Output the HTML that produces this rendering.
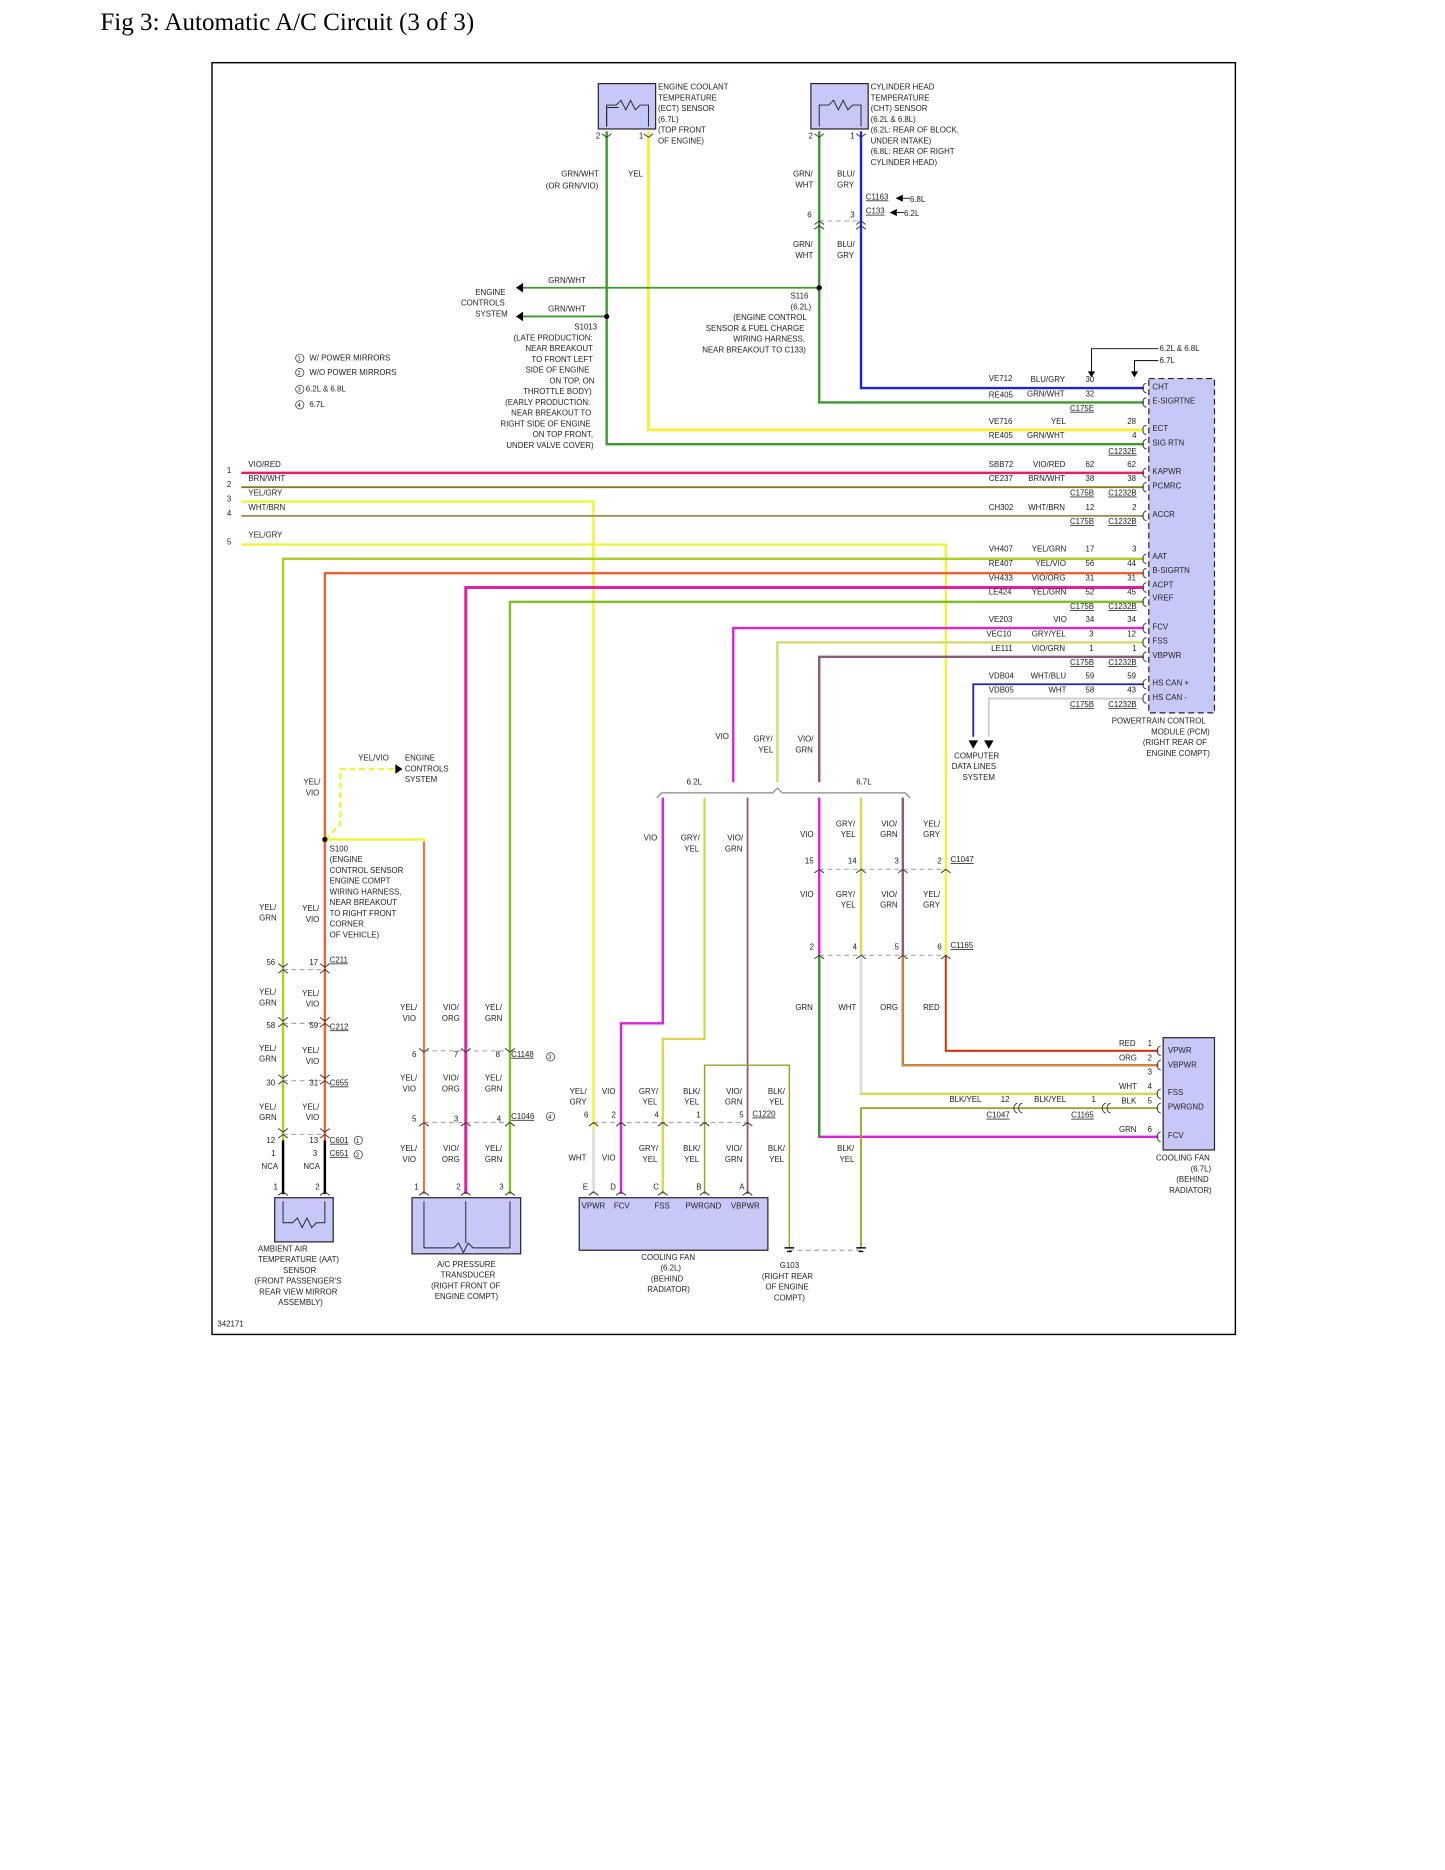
<!DOCTYPE html>
<html><head><meta charset="utf-8"><style>
html,body{margin:0;padding:0;background:#fff}
svg{display:block}
text{font-family:"Liberation Sans",sans-serif;font-size:6.6px;fill:#222}
.t{font-family:"Liberation Serif",serif;font-size:21px;fill:#000}
.u{text-decoration:underline}
</style></head><body>
<svg width="1445" height="1870" viewBox="0 0 1210 1566" xmlns="http://www.w3.org/2000/svg">
<text class="t" x="84" y="25">Fig 3: Automatic A/C Circuit (3 of 3)</text>
<rect x="177.5" y="52.5" width="857" height="1065" fill="none" stroke="#000" stroke-width="1.2"/>

<g fill="none" stroke-width="2">
<!-- ECT -->
<polyline points="508,110 508,372 958,372" stroke="#3a9a2a"/>
<polyline points="543,110 543,360 958,360" stroke="#f2f23a" stroke-width="2.5"/>
<!-- CHT -->
<polyline points="686,110 686,337 958,337" stroke="#3a9a2a"/>
<polyline points="721,110 721,325 958,325" stroke="#2020e0"/>
<line x1="686" y1="241" x2="438" y2="241" stroke="#3a9a2a" stroke-width="1.5"/>
<line x1="508" y1="265" x2="438" y2="265" stroke="#3a9a2a" stroke-width="1.5"/>
<!-- left rows -->
<line x1="202" y1="396" x2="958" y2="396" stroke="#e0206a"/>
<line x1="202" y1="408" x2="958" y2="408" stroke="#8a7a20" stroke-width="1.5"/>
<polyline points="202,420 497,420 497,1000" stroke="#f2f23a"/>
<line x1="202" y1="432" x2="958" y2="432" stroke="#a08a50" stroke-width="1.5"/>
<polyline points="202,456 792,456 792,880 970,880" stroke="#f2f23a"/>
<polyline points="958,468 237,468 237,1000" stroke="#a8d020"/>
<polyline points="958,480 272,480 272,1000" stroke="#f06030"/>
<polyline points="958,492 390,492 390,1000" stroke="#e020a0" stroke-width="2.5"/>
<polyline points="958,504 427,504 427,1000" stroke="#80c020"/>
<polyline points="958,526 614,526 614,655" stroke="#e020e0"/>
<polyline points="958,538 651,538 651,655" stroke="#d8d870"/>
<polyline points="958,550 686,550 686,655" stroke="#8a5a7a"/>
<polyline points="958,573 815,573 815,617" stroke="#2020c0" stroke-width="1.5"/>
<polyline points="958,585 828,585 828,617" stroke="#ccc" stroke-width="1.5"/>
<polyline points="970,292 914,292 914,312" stroke="#000" stroke-width="0.8"/>
<polyline points="970,302 950,302 950,312" stroke="#000" stroke-width="0.8"/>
<!-- S100 -->
<polyline points="272,703 285,690 285,644 330,644" stroke="#f2f23a" stroke-dasharray="5,3"/>
<polyline points="272,703 355,703 355,1000" stroke="#f2f23a"/>
<line x1="355" y1="705" x2="355" y2="1000" stroke="#f06060" stroke-width="1.5"/>
<!-- 6.2L fan -->
<polyline points="555,668 555,857 520,857 520,1000" stroke="#e020e0"/>
<polyline points="590,668 590,870 555,870 555,1000" stroke="#d8d850"/>
<line x1="626" y1="668" x2="626" y2="1000" stroke="#8a5a7a" stroke-width="1.5"/>
<polyline points="590,1000 590,892 661,892 661,1045" stroke="#a0a020" stroke-width="1.2"/>
<!-- 6.7L fan -->
<polyline points="686,668 686,952 970,952" stroke="#e020e0"/>
<line x1="686" y1="800" x2="686" y2="952" stroke="#3a9a2a"/>
<polyline points="721,668 721,916 970,916" stroke="#d8d850"/>
<line x1="721" y1="800" x2="721" y2="916" stroke="#ddd"/>
<polyline points="756,668 756,892 970,892" stroke="#8a5a7a"/>
<polyline points="756,800 756,892 970,892" stroke="#e08a20" stroke-width="1.5"/>
<polyline points="792,800 792,880 970,880" stroke="#e02020" stroke-width="1.5"/>
<polyline points="970,928 721,928 721,1045" stroke="#a0a020" stroke-width="1.5"/>
<line x1="237" y1="955" x2="237" y2="1000" stroke="#000"/>
<line x1="272" y1="955" x2="272" y2="1000" stroke="#000"/>
</g>
<line x1="497" y1="945" x2="497" y2="1000" stroke="#ddd" stroke-width="2"/>
<!-- dashed connector lines -->
<g stroke="#aaa" stroke-width="1" stroke-dasharray="4,3" fill="none">
<line x1="686" y1="185" x2="721" y2="185"/>
<line x1="237" y1="812" x2="272" y2="812"/>
<line x1="237" y1="857" x2="272" y2="857"/>
<line x1="237" y1="905" x2="272" y2="905"/>
<line x1="237" y1="950" x2="272" y2="950"/>
<line x1="355" y1="880" x2="427" y2="880"/>
<line x1="355" y1="940" x2="427" y2="940"/>
<line x1="497" y1="940" x2="626" y2="940"/>
<line x1="686" y1="728" x2="792" y2="728"/>
<line x1="686" y1="800" x2="792" y2="800"/>
<line x1="661" y1="1047" x2="721" y2="1047"/>
</g>
<!-- 6.2/6.7 bracket -->
<polyline points="550,668 554,664 647,664 651,660 655,664 758,664 762,668" fill="none" stroke="#888" stroke-width="1"/>
<!-- arrows -->
<g fill="#000">
<polygon points="432,241 438,237 438,245"/><polygon points="432,265 438,261 438,269"/>
<polygon points="337,644 331,640 331,648"/>
<polygon points="811,620 819,620 815,627"/><polygon points="824,620 832,620 828,627"/>
<polygon points="911,311 917,311 914,316"/><polygon points="947,311 953,311 950,316"/>
<polygon points="750,166 756,163 756,169"/><polygon points="745,178 751,175 751,181"/>
<circle cx="508" cy="265" r="2.2"/><circle cx="686" cy="241" r="2.2"/><circle cx="272" cy="703" r="2.2"/>
</g>
<line x1="756" y1="166" x2="762" y2="166" stroke="#000" stroke-width=".7"/>
<line x1="751" y1="178" x2="757" y2="178" stroke="#000" stroke-width=".7"/>
<!-- boxes -->
<g fill="#c8c8f8" stroke="#222" stroke-width="1">
<rect x="501" y="70" width="48" height="38"/><rect x="679" y="70" width="48" height="38"/>
<rect x="230" y="1003" width="49" height="37"/><rect x="345" y="1003" width="91" height="47"/>
<rect x="485" y="1003" width="158" height="44"/><rect x="974" y="869" width="43" height="94"/>
<rect x="962" y="317" width="55" height="280" stroke-dasharray="5,3"/>
</g>
<g fill="none" stroke="#222" stroke-width=".8">
<polyline points="508,106 508,90 518,90 M"/><polyline points="508,106 508,88 516,88 520,84 524,92 528,84 532,92 536,88 543,88 543,106"/>
<polyline points="686,106 686,88 694,88 698,84 702,92 706,84 710,92 714,88 721,88 721,106"/>
<polyline points="237,1006 237,1024 245,1024 249,1020 253,1028 257,1020 261,1028 265,1024 272,1024 272,1006"/>
<polyline points="355,1006 355,1045 380,1045 384,1041 388,1049 392,1041 396,1045 427,1045 427,1006"/>
<line x1="390" y1="1006" x2="390" y2="1041"/>
</g>
<!-- connector chevrons -->
<g fill="none" stroke="#333" stroke-width=".8">
<path d="M504,112 l4,3 4,-3 M539,112 l4,3 4,-3 M682,112 l4,3 4,-3 M717,112 l4,3 4,-3"/>
<path d="M682,188 l4,-3 4,3 M717,188 l4,-3 4,3 M682,192 l4,-3 4,3 M717,192 l4,-3 4,3"/>
<path d="M233,815 l4,-3 4,3 M268,815 l4,-3 4,3 M233,860 l4,-3 4,3 M268,860 l4,-3 4,3 M233,908 l4,-3 4,3 M268,908 l4,-3 4,3 M233,953 l4,-3 4,3 M268,953 l4,-3 4,3"/>
<path d="M233,852 l4,3 4,-3 M268,852 l4,3 4,-3 M233,900 l4,3 4,-3 M268,900 l4,3 4,-3 M233,945 l4,3 4,-3 M268,945 l4,3 4,-3 M233,807 l4,3 4,-3 M268,807 l4,3 4,-3"/>
<path d="M351,878 l4,3 4,-3 M386,878 l4,3 4,-3 M423,878 l4,3 4,-3 M351,943 l4,-3 4,3 M386,943 l4,-3 4,3 M423,943 l4,-3 4,3"/>
<path d="M493,943 l4,-3 4,3 M516,943 l4,-3 4,3 M551,943 l4,-3 4,3 M586,943 l4,-3 4,3 M622,943 l4,-3 4,3"/>
<path d="M493,1001 l4,-3 4,3 M516,1001 l4,-3 4,3 M551,1001 l4,-3 4,3 M586,1001 l4,-3 4,3 M622,1001 l4,-3 4,3"/>
<path d="M233,1001 l4,-3 4,3 M268,1001 l4,-3 4,3 M351,1001 l4,-3 4,3 M386,1001 l4,-3 4,3 M423,1001 l4,-3 4,3"/>
<path d="M682,731 l4,-3 4,3 M717,731 l4,-3 4,3 M752,731 l4,-3 4,3 M788,731 l4,-3 4,3 M682,803 l4,-3 4,3 M717,803 l4,-3 4,3 M752,803 l4,-3 4,3 M788,803 l4,-3 4,3"/>
<path d="M960,321 a3,4 0 0 0 0,8 M960,333 a3,4 0 0 0 0,8 M960,356 a3,4 0 0 0 0,8 M960,368 a3,4 0 0 0 0,8 M960,392 a3,4 0 0 0 0,8 M960,404 a3,4 0 0 0 0,8 M960,428 a3,4 0 0 0 0,8 M960,464 a3,4 0 0 0 0,8 M960,476 a3,4 0 0 0 0,8 M960,488 a3,4 0 0 0 0,8 M960,500 a3,4 0 0 0 0,8 M960,522 a3,4 0 0 0 0,8 M960,534 a3,4 0 0 0 0,8 M960,546 a3,4 0 0 0 0,8 M960,569 a3,4 0 0 0 0,8 M960,581 a3,4 0 0 0 0,8"/>
<path d="M972,876 a3,4 0 0 0 0,8 M972,888 a3,4 0 0 0 0,8 M972,912 a3,4 0 0 0 0,8 M972,924 a3,4 0 0 0 0,8 M972,948 a3,4 0 0 0 0,8 M852,924 a3,4 0 0 0 0,8 M856,924 a3,4 0 0 0 0,8 M926,924 a3,4 0 0 0 0,8 M930,924 a3,4 0 0 0 0,8"/>
</g>
<g stroke="#000" stroke-width="1.2"><line x1="657" y1="1045" x2="665" y2="1045"/><line x1="717" y1="1045" x2="725" y2="1045"/><line x1="659" y1="1048" x2="663" y2="1048"/><line x1="719" y1="1048" x2="723" y2="1048"/></g>

<!-- texts -->
<text x="551" y="75">ENGINE COOLANT</text><text x="551" y="84">TEMPERATURE</text><text x="551" y="93">(ECT) SENSOR</text><text x="551" y="102">(6.7L)</text><text x="551" y="111">(TOP FRONT</text><text x="551" y="120">OF ENGINE)</text>
<text x="729" y="75">CYLINDER HEAD</text><text x="729" y="84">TEMPERATURE</text><text x="729" y="93">(CHT) SENSOR</text><text x="729" y="102">(6.2L &amp; 6.8L)</text><text x="729" y="111">(6.2L: REAR OF BLOCK,</text><text x="729" y="120">UNDER INTAKE)</text><text x="729" y="129">(6.8L: REAR OF RIGHT</text><text x="729" y="138">CYLINDER HEAD)</text>
<text x="499" y="116">2</text><text x="535" y="116">1</text><text x="677" y="116">2</text><text x="712" y="116">1</text>
<text x="470" y="148">GRN/WHT</text><text x="457" y="158">(OR GRN/VIO)</text><text x="526" y="148">YEL</text>
<text x="664" y="148">GRN/</text><text x="666" y="157">WHT</text><text x="701" y="148">BLU/</text><text x="701" y="157">GRY</text>
<text class="u" x="725" y="167">C1163</text><text x="762" y="169">6.8L</text><text class="u" x="725" y="179">C133</text><text x="757" y="181">6.2L</text>
<text x="676" y="182">6</text><text x="712" y="182">3</text>
<text x="664" y="207">GRN/</text><text x="666" y="216">WHT</text><text x="701" y="207">BLU/</text><text x="701" y="216">GRY</text>
<text x="459" y="237">GRN/WHT</text><text x="459" y="261">GRN/WHT</text>
<text x="398" y="247">ENGINE</text><text x="386" y="256">CONTROLS</text><text x="398" y="265">SYSTEM</text>
<text x="481" y="276">S1013</text><text x="430" y="285">(LATE PRODUCTION:</text><text x="440" y="294">NEAR BREAKOUT</text><text x="445" y="303">TO FRONT LEFT</text><text x="440" y="312">SIDE OF ENGINE</text><text x="460" y="321">ON TOP, ON</text><text x="438" y="330">THROTTLE BODY)</text><text x="423" y="339">(EARLY PRODUCTION:</text><text x="428" y="348">NEAR BREAKOUT TO</text><text x="419" y="357">RIGHT SIDE OF ENGINE</text><text x="446" y="366">ON TOP FRONT,</text><text x="424" y="375">UNDER VALVE COVER)</text>
<text x="662" y="250">S116</text><text x="662" y="259">(6.2L)</text><text x="614" y="268">(ENGINE CONTROL</text><text x="591" y="277">SENSOR &amp; FUEL CHARGE</text><text x="614" y="286">WIRING HARNESS,</text><text x="588" y="295">NEAR BREAKOUT TO C133)</text>
<g fill="none" stroke="#333" stroke-width=".6"><circle cx="251" cy="300" r="3.5"/><circle cx="251" cy="312" r="3.5"/><circle cx="251" cy="326" r="3.5"/><circle cx="251" cy="339" r="3.5"/></g>
<text x="249" y="302" style="font-size:5px">1</text><text x="249" y="314" style="font-size:5px">2</text><text x="249" y="328" style="font-size:5px">3</text><text x="249" y="341" style="font-size:5px">4</text>
<text x="259" y="302">W/ POWER MIRRORS</text><text x="259" y="314">W/O POWER MIRRORS</text><text x="256" y="328">6.2L &amp; 6.8L</text><text x="259" y="341">6.7L</text>
<text x="971" y="294">6.2L &amp; 6.8L</text><text x="971" y="304">6.7L</text>
<!-- PCM labels -->
<g>
<text x="828" y="319">VE712</text><text x="863" y="320">BLU/GRY</text><text x="909" y="320">30</text>
<text x="828" y="333">RE405</text><text x="860" y="332">GRN/WHT</text><text x="909" y="332">32</text><text class="u" x="896" y="344">C175E</text>
<text x="828" y="355">VE716</text><text x="880" y="355">YEL</text><text x="944" y="355">28</text>
<text x="828" y="367">RE405</text><text x="860" y="367">GRN/WHT</text><text x="948" y="367">4</text><text class="u" x="928" y="380">C1232E</text>
<text x="828" y="391">SBB72</text><text x="865" y="391">VIO/RED</text><text x="909" y="391">62</text><text x="944" y="391">62</text>
<text x="828" y="403">CE237</text><text x="861" y="403">BRN/WHT</text><text x="909" y="403">38</text><text x="944" y="403">38</text>
<text class="u" x="896" y="415">C175B</text><text class="u" x="928" y="415">C1232B</text>
<text x="828" y="427">CH302</text><text x="861" y="427">WHT/BRN</text><text x="909" y="427">12</text><text x="948" y="427">2</text>
<text class="u" x="896" y="439">C175B</text><text class="u" x="928" y="439">C1232B</text>
<text x="828" y="462">VH407</text><text x="864" y="462">YEL/GRN</text><text x="909" y="462">17</text><text x="948" y="462">3</text>
<text x="828" y="474">RE407</text><text x="867" y="474">YEL/VIO</text><text x="909" y="474">56</text><text x="944" y="474">44</text>
<text x="828" y="486">VH433</text><text x="864" y="486">VIO/ORG</text><text x="909" y="486">31</text><text x="944" y="486">31</text>
<text x="828" y="498">LE424</text><text x="864" y="498">YEL/GRN</text><text x="909" y="498">52</text><text x="944" y="498">45</text>
<text class="u" x="896" y="510">C175B</text><text class="u" x="928" y="510">C1232B</text>
<text x="828" y="521">VE203</text><text x="882" y="521">VIO</text><text x="909" y="521">34</text><text x="944" y="521">34</text>
<text x="826" y="533">VEC10</text><text x="864" y="533">GRY/YEL</text><text x="912" y="533">3</text><text x="944" y="533">12</text>
<text x="830" y="545">LE111</text><text x="864" y="545">VIO/GRN</text><text x="912" y="545">1</text><text x="948" y="545">1</text>
<text class="u" x="896" y="557">C175B</text><text class="u" x="928" y="557">C1232B</text>
<text x="828" y="568">VDB04</text><text x="863" y="568">WHT/BLU</text><text x="909" y="568">59</text><text x="944" y="568">59</text>
<text x="828" y="580">VDB05</text><text x="878" y="580">WHT</text><text x="909" y="580">58</text><text x="944" y="580">43</text>
<text class="u" x="896" y="592">C175B</text><text class="u" x="928" y="592">C1232B</text>
</g>
<g>
<text x="965" y="326">CHT</text><text x="965" y="338">E-SIGRTNE</text><text x="965" y="361">ECT</text><text x="965" y="373">SIG RTN</text><text x="965" y="397">KAPWR</text><text x="965" y="409">PCMRC</text><text x="965" y="433">ACCR</text><text x="965" y="468">AAT</text><text x="965" y="480">B-SIGRTN</text><text x="965" y="492">ACPT</text><text x="965" y="503">VREF</text><text x="965" y="527">FCV</text><text x="965" y="539">FSS</text><text x="965" y="551">VBPWR</text><text x="965" y="574">HS CAN +</text><text x="965" y="586">HS CAN -</text>
</g>
<text x="931" y="606">POWERTRAIN CONTROL</text><text x="964" y="615">MODULE (PCM)</text><text x="957" y="624">(RIGHT REAR OF</text><text x="960" y="633">ENGINE COMPT)</text>
<text x="799" y="635">COMPUTER</text><text x="797" y="644">DATA LINES</text><text x="806" y="653">SYSTEM</text>
<text x="190" y="396">1</text><text x="190" y="408">2</text><text x="190" y="420">3</text><text x="190" y="432">4</text><text x="190" y="456">5</text>
<text x="208" y="391">VIO/RED</text><text x="208" y="403">BRN/WHT</text><text x="208" y="415">YEL/GRY</text><text x="208" y="427">WHT/BRN</text><text x="208" y="450">YEL/GRY</text>
<text x="599" y="619">VIO</text><text x="631" y="621">GRY/</text><text x="635" y="630">YEL</text><text x="668" y="621">VIO/</text><text x="666" y="630">GRN</text>
<text x="575" y="657">6.2L</text><text x="717" y="657">6.7L</text>
<text x="539" y="704">VIO</text><text x="570" y="704">GRY/</text><text x="573" y="713">YEL</text><text x="609" y="704">VIO/</text><text x="607" y="713">GRN</text>
<text x="670" y="701">VIO</text><text x="700" y="692">GRY/</text><text x="704" y="701">YEL</text><text x="738" y="692">VIO/</text><text x="737" y="701">GRN</text><text x="773" y="692">YEL/</text><text x="773" y="701">GRY</text>
<text x="674" y="723">15</text><text x="710" y="723">14</text><text x="749" y="723">3</text><text x="785" y="723">2</text><text class="u" x="796" y="722">C1047</text>
<text x="670" y="751">VIO</text><text x="700" y="751">GRY/</text><text x="704" y="760">YEL</text><text x="738" y="751">VIO/</text><text x="737" y="760">GRN</text><text x="773" y="751">YEL/</text><text x="773" y="760">GRY</text>
<text x="678" y="795">2</text><text x="714" y="795">4</text><text x="749" y="795">5</text><text x="785" y="795">6</text><text class="u" x="796" y="794">C1165</text>
<text x="666" y="846">GRN</text><text x="702" y="846">WHT</text><text x="737" y="846">ORG</text><text x="773" y="846">RED</text>
<text x="937" y="876">RED</text><text x="961" y="876">1</text><text x="937" y="888">ORG</text><text x="961" y="888">2</text><text x="961" y="900">3</text><text x="937" y="912">WHT</text><text x="961" y="912">4</text><text x="939" y="924">BLK</text><text x="961" y="924">5</text><text x="937" y="948">GRN</text><text x="961" y="948">6</text>
<text x="978" y="882">VPWR</text><text x="978" y="894">VBPWR</text><text x="978" y="917">FSS</text><text x="978" y="929">PWRGND</text><text x="978" y="953">FCV</text>
<text x="795" y="923">BLK/YEL</text><text x="838" y="923">12</text><text x="866" y="923">BLK/YEL</text><text x="914" y="923">1</text><text class="u" x="826" y="936">C1047</text><text class="u" x="897" y="936">C1165</text>
<text x="968" y="972">COOLING FAN</text><text x="997" y="981">(6.7L)</text><text x="985" y="990">(BEHIND</text><text x="979" y="999">RADIATOR)</text>
<text x="701" y="964">BLK/</text><text x="703" y="973">YEL</text>
<text x="300" y="637">YEL/VIO</text><text x="339" y="637">ENGINE</text><text x="339" y="646">CONTROLS</text><text x="339" y="655">SYSTEM</text>
<text x="254" y="657">YEL/</text><text x="256" y="666">VIO</text>
<text x="276" y="713">S100</text><text x="276" y="722">(ENGINE</text><text x="276" y="731">CONTROL SENSOR</text><text x="276" y="740">ENGINE COMPT</text><text x="276" y="749">WIRING HARNESS,</text><text x="276" y="758">NEAR BREAKOUT</text><text x="276" y="767">TO RIGHT FRONT</text><text x="276" y="776">CORNER</text><text x="276" y="785">OF VEHICLE)</text>
<text x="217" y="762">YEL/</text><text x="217" y="771">GRN</text><text x="253" y="763">YEL/</text><text x="256" y="772">VIO</text>
<text x="223" y="808">56</text><text x="259" y="808">17</text><text class="u" x="276" y="806">C211</text>
<text x="217" y="833">YEL/</text><text x="217" y="842">GRN</text><text x="253" y="834">YEL/</text><text x="256" y="843">VIO</text>
<text x="223" y="861">58</text><text x="259" y="861">59</text><text class="u" x="276" y="862">C212</text>
<text x="217" y="880">YEL/</text><text x="217" y="889">GRN</text><text x="253" y="882">YEL/</text><text x="256" y="891">VIO</text>
<text x="223" y="909">30</text><text x="259" y="909">31</text><text class="u" x="276" y="909">C655</text>
<text x="217" y="929">YEL/</text><text x="217" y="938">GRN</text><text x="253" y="929">YEL/</text><text x="256" y="938">VIO</text>
<text x="223" y="957">12</text><text x="259" y="957">13</text><text class="u" x="276" y="957">C601</text><text x="227" y="968">1</text><text x="262" y="968">3</text><text class="u" x="276" y="968">C651</text>
<g fill="none" stroke="#333" stroke-width=".6"><circle cx="300" cy="955" r="3.5"/><circle cx="300" cy="967" r="3.5"/><circle cx="461" cy="885" r="3.5"/><circle cx="461" cy="935" r="3.5"/></g>
<text x="298" y="957" style="font-size:5px">1</text><text x="298" y="969" style="font-size:5px">2</text><text x="459" y="887" style="font-size:5px">3</text><text x="459" y="937" style="font-size:5px">4</text>
<text x="219" y="979">NCA</text><text x="254" y="979">NCA</text><text x="229" y="996">1</text><text x="264" y="996">2</text>
<text x="216" y="1048">AMBIENT AIR</text><text x="216" y="1057">TEMPERATURE (AAT)</text><text x="237" y="1066">SENSOR</text><text x="213" y="1075">(FRONT PASSENGER'S</text><text x="217" y="1084">REAR VIEW MIRROR</text><text x="233" y="1093">ASSEMBLY)</text>
<text x="335" y="846">YEL/</text><text x="337" y="855">VIO</text><text x="371" y="846">VIO/</text><text x="370" y="855">ORG</text><text x="406" y="846">YEL/</text><text x="406" y="855">GRN</text>
<text x="345" y="885">6</text><text x="380" y="885">7</text><text x="415" y="885">8</text><text class="u" x="428" y="885">C1148</text>
<text x="335" y="905">YEL/</text><text x="337" y="914">VIO</text><text x="371" y="905">VIO/</text><text x="370" y="914">ORG</text><text x="406" y="905">YEL/</text><text x="406" y="914">GRN</text>
<text x="345" y="939">5</text><text x="380" y="939">3</text><text x="416" y="939">4</text><text class="u" x="428" y="937">C1046</text>
<text x="335" y="964">YEL/</text><text x="337" y="973">VIO</text><text x="371" y="964">VIO/</text><text x="370" y="973">ORG</text><text x="406" y="964">YEL/</text><text x="406" y="973">GRN</text>
<text x="347" y="996">1</text><text x="382" y="996">2</text><text x="418" y="996">3</text>
<text x="366" y="1061">A/C PRESSURE</text><text x="369" y="1070">TRANSDUCER</text><text x="361" y="1079">(RIGHT FRONT OF</text><text x="364" y="1088">ENGINE COMPT)</text>
<text x="477" y="916">YEL/</text><text x="477" y="925">GRY</text><text x="504" y="916">VIO</text><text x="535" y="916">GRY/</text><text x="538" y="925">YEL</text><text x="572" y="916">BLK/</text><text x="573" y="925">YEL</text><text x="608" y="916">VIO/</text><text x="607" y="925">GRN</text><text x="643" y="916">BLK/</text><text x="644" y="925">YEL</text>
<text x="489" y="936">6</text><text x="512" y="936">2</text><text x="548" y="936">4</text><text x="583" y="936">1</text><text x="619" y="936">5</text><text class="u" x="630" y="935">C1220</text>
<text x="476" y="972">WHT</text><text x="504" y="972">VIO</text><text x="535" y="964">GRY/</text><text x="538" y="973">YEL</text><text x="572" y="964">BLK/</text><text x="573" y="973">YEL</text><text x="608" y="964">VIO/</text><text x="607" y="973">GRN</text><text x="643" y="964">BLK/</text><text x="644" y="973">YEL</text>
<text x="488" y="996">E</text><text x="511" y="996">D</text><text x="547" y="996">C</text><text x="583" y="996">B</text><text x="619" y="996">A</text>
<text x="487" y="1012">VPWR</text><text x="514" y="1012">FCV</text><text x="548" y="1012">FSS</text><text x="574" y="1012">PWRGND</text><text x="612" y="1012">VBPWR</text>
<text x="537" y="1055">COOLING FAN</text><text x="553" y="1064">(6.2L)</text><text x="545" y="1073">(BEHIND</text><text x="542" y="1082">RADIATOR)</text>
<text x="653" y="1062">G103</text><text x="638" y="1071">(RIGHT REAR</text><text x="641" y="1080">OF ENGINE</text><text x="648" y="1089">COMPT)</text>
<text x="182" y="1111">342171</text>
</svg>
</body></html>
